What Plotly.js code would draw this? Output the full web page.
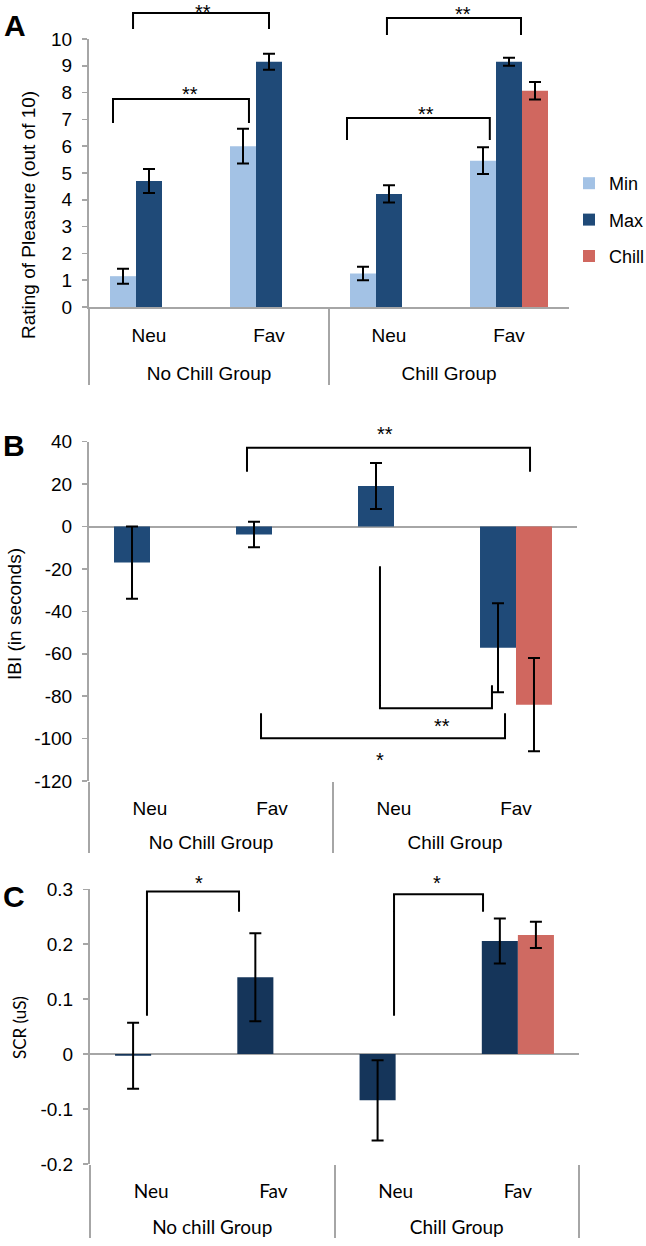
<!DOCTYPE html>
<html>
<head>
<meta charset="utf-8">
<script src="https://cdn.plot.ly/plotly-3.0.1.min.js"></script>
<style>
html,body{margin:0;padding:0;background:#fff;}
#chart{width:646px;height:1246px;}
</style>
</head>
<body>
<div id="chart"></div>
<script>
// ---------------- DATA ----------------
const groupsAB = ['No Chill Group','No Chill Group','Chill Group','Chill Group'];
const groupsC  = ['No chill Group','No chill Group','Chill Group','Chill Group'];
const conditions = ['Neu','Fav','Neu','Fav'];
const seriesNames = ['Min','Max','Chill'];

// Panel A: Rating of pleasure (out of 10)
const pleasureMin    = [1.15, 6.0, 1.25, 5.46];
const pleasureMinErr = [0.28, 0.65, 0.25, 0.5];
const pleasureMax    = [4.7, 9.15, 4.22, 9.15];
const pleasureMaxErr = [0.45, 0.3, 0.32, 0.15];
const pleasureChill    = [null, null, null, 8.07];
const pleasureChillErr = [null, null, null, 0.33];

// Panel B: IBI (in seconds)
const ibiMax    = [-17, -3.8, 19.1, -57.2];
const ibiMaxErr = [17, 6, 10.8, 21];
const ibiChill    = [null, null, null, -84];
const ibiChillErr = [null, null, null, 22];
const ibiTickVals = [40, 20, 0, -20, -40, -60, -80, -100, -120];
const ibiTickText = ['40','20','0','-20','-40','-60','-80','-100','-120'];

// Panel C: SCR (uS)
const scrMax    = [-0.003, 0.14, -0.084, 0.206];
const scrMaxErr = [0.06, 0.08, 0.073, 0.041];
const scrChill    = [null, null, null, 0.217];
const scrChillErr = [null, null, null, 0.024];
const scrTickVals = [0.3, 0.2, 0.1, 0, -0.1, -0.2];
const scrTickText = ['0.3','0.2','0.1','0','-0.1','-0.2'];

// ---------------- LAYOUT GEOMETRY ----------------
const W = 646, H = 1246;
const panels = {
  A: {x0: 89, x1: 569, yTop: 39,    yBot: 307,  r: [0, 10]},
  B: {x0: 89, x1: 577, yTop: 441.7, yBot: 781,  r: [-120, 40]},
  C: {x0: 90, x1: 579, yTop: 889.3, yBot: 1164, r: [-0.2, 0.3]}
};
function xDom(p){ return [p.x0 / W, p.x1 / W]; }
function yDom(p){ return [1 - p.yBot / H, 1 - p.yTop / H]; }
function toPX(p, idx){ return (p.x0 + (idx + 0.5) / 4 * (p.x1 - p.x0)) / W; }
function toPY(p, v){ const py = p.yBot - (v - p.r[0]) / (p.r[1] - p.r[0]) * (p.yBot - p.yTop); return 1 - py / H; }

// significance brackets (category index, value)
const brackets = [
  {panel:'A', pts:[[-0.3,6.87],[-0.3,7.76],[0.833,7.76],[0.833,6.87]], label:'**', at:[0.34,8.1]},
  {panel:'A', pts:[[-0.133,10.37],[-0.133,10.97],[1.0,10.97],[1.0,10.37]], label:'**', at:[0.45,11.3], ys:-8},
  {panel:'A', pts:[[1.65,6.23],[1.65,7.05],[2.84,7.05],[2.84,6.23]], label:'**', at:[2.31,7.35]},
  {panel:'A', pts:[[1.983,10.15],[1.983,10.78],[3.1,10.78],[3.1,10.15]], label:'**', at:[2.62,11.08]},
  {panel:'B', pts:[[0.795,25.8],[0.795,37.1],[3.115,37.1],[3.115,25.8]], label:'**', at:[1.926,45.4]},
  {panel:'B', pts:[[1.885,-18.7],[1.885,-85.7],[2.803,-85.7],[2.803,-74.8]], label:'**', at:[2.393,-92.2]},
  {panel:'B', pts:[[0.91,-88],[0.91,-99.8],[2.91,-99.8],[2.91,-88]], label:'*', at:[1.885,-108.4]},
  {panel:'C', pts:[[-0.034,0.07],[-0.034,0.296],[0.719,0.296],[0.719,0.259]], label:'*', at:[0.392,0.319]},
  {panel:'C', pts:[[1.987,0.07],[1.987,0.291],[2.715,0.291],[2.715,0.259]], label:'*', at:[2.339,0.319]}
];

// ---------------- STYLE ----------------
const GRAY = '#a6a6a6';
const cMin = '#a3c2e5', cMax = '#1f4a78', cChill = '#d0675f', cMaxC = '#15355a', cChillC = '#cf6a62';
const FONT = 'Liberation Sans, Arial, sans-serif';
const FONTC = 'Lato, Liberation Sans, sans-serif';

function err(arr){ return {type:'data', array:arr, visible:true, color:'#000', thickness:2, width:6}; }
// group labels sit one text line below the condition labels
const lowered = g => '<br>' + g;
const xA = [groupsAB.map(lowered), conditions], xC = [groupsC.map(lowered), conditions];

const traces = [
  {type:'bar', name:seriesNames[0], x:xA, y:pleasureMin, error_y:err(pleasureMinErr), marker:{color:cMin}, xaxis:'x', yaxis:'y', legendgroup:'a'},
  {type:'bar', name:seriesNames[1], x:xA, y:pleasureMax, error_y:err(pleasureMaxErr), marker:{color:cMax}, xaxis:'x', yaxis:'y', legendgroup:'b'},
  {type:'bar', name:seriesNames[2], x:xA, y:pleasureChill, error_y:err(pleasureChillErr), marker:{color:cChill}, xaxis:'x', yaxis:'y', legendgroup:'c'},

  {type:'bar', name:seriesNames[1], x:xA, y:ibiMax, error_y:err(ibiMaxErr), marker:{color:cMax}, xaxis:'x2', yaxis:'y2', width:0.295, offset:-0.295, showlegend:false},
  {type:'bar', name:seriesNames[2], x:xA, y:ibiChill, error_y:err(ibiChillErr), marker:{color:cChill}, xaxis:'x2', yaxis:'y2', width:0.295, offset:0, showlegend:false},

  {type:'bar', name:seriesNames[1], x:xC, y:scrMax, error_y:err(scrMaxErr), marker:{color:cMaxC}, xaxis:'x3', yaxis:'y3', width:0.295, offset:-0.295, showlegend:false},
  {type:'bar', name:seriesNames[2], x:xC, y:scrChill, error_y:err(scrChillErr), marker:{color:cChillC}, xaxis:'x3', yaxis:'y3', width:0.295, offset:0, showlegend:false}
];

function xAxis(p, anchor, showline, font, standoff){
  return {domain:xDom(p), anchor:anchor, type:'multicategory', showline:showline, linecolor:GRAY, linewidth:2,
    showdividers:true, dividercolor:GRAY, dividerwidth:2, ticks:'', showgrid:false, zeroline:false,
    tickfont:{family:font, size:19, color:'#000'}, ticklabelstandoff:standoff, fixedrange:true, automargin:false};
}
function yAxis(p, anchor, extra){
  return Object.assign({domain:yDom(p), anchor:anchor, range:p.r, showline:true, linecolor:GRAY, linewidth:2,
    ticks:'outside', ticklen:5, tickwidth:1.5, tickcolor:GRAY, showgrid:false, zeroline:false,
    tickfont:{family:FONT, size:19, color:'#000'}, ticklabelstandoff:6, fixedrange:true, automargin:false}, extra);
}

const shapes = [], annotations = [];
brackets.forEach(b => {
  const p = panels[b.panel];
  const d = b.pts.map((pt, i) => (i ? 'L' : 'M') + toPX(p, pt[0]).toFixed(5) + ',' + toPY(p, pt[1]).toFixed(5)).join(' ');
  shapes.push({type:'path', xref:'paper', yref:'paper', path:d, line:{color:'#000', width:2}});
  annotations.push({xref:'paper', yref:'paper', x:toPX(p, b.at[0]), y:toPY(p, b.at[1]), text:b.label, showarrow:false,
    xanchor:'center', yanchor:'middle', yshift:(b.ys === undefined ? -4 : b.ys), font:{family:FONT, size:20, color:'#000'}});
});

// panel letters
[['A', 15, 26], ['B', 14, 445], ['C', 14, 896]].forEach(l => {
  annotations.push({xref:'paper', yref:'paper', x:l[1] / W, y:1 - l[2] / H, text:'<b>' + l[0] + '</b>', showarrow:false,
    xanchor:'center', yanchor:'middle', font:{family:FONT, size:30, color:'#000'}});
});
// y-axis titles
[['Rating of Pleasure (out of 10)', 28, 215, FONT, 19], ['IBI (in seconds)', 14, 614, FONT, 19], ['SCR (uS)', 19, 1028, FONTC, 17]].forEach(t => {
  annotations.push({xref:'paper', yref:'paper', x:t[1] / W, y:1 - t[2] / H, text:t[0], textangle:-90, showarrow:false,
    xanchor:'center', yanchor:'middle', font:{family:t[3], size:t[4], color:'#000'}});
});

const layout = {
  width:W, height:H, margin:{l:0, r:0, t:0, b:0, pad:0, autoexpand:false}, paper_bgcolor:'#fff', plot_bgcolor:'rgba(0,0,0,0)',
  barmode:'group', bargap:0.35, bargroupgap:0,
  showlegend:true,
  legend:{x:569 / W, y:1 - 165 / H, xanchor:'left', yanchor:'top', traceorder:'grouped', tracegroupgap:10,
    itemwidth:30, font:{family:FONT, size:18, color:'#000'}, bgcolor:'rgba(0,0,0,0)'},
  xaxis: xAxis(panels.A, 'y', true, FONT, 10),
  yaxis: yAxis(panels.A, 'x', {dtick:1, tick0:0}),
  xaxis2: xAxis(panels.B, 'y2', false, FONT, 14),
  yaxis2: yAxis(panels.B, 'x2', {tickvals:ibiTickVals, ticktext:ibiTickText, zeroline:true, zerolinecolor:GRAY, zerolinewidth:2}),
  xaxis3: xAxis(panels.C, 'y3', false, FONTC, 14),
  yaxis3: yAxis(panels.C, 'x3', {tickvals:scrTickVals, ticktext:scrTickText, zeroline:true, zerolinecolor:GRAY, zerolinewidth:2}),
  shapes:shapes, annotations:annotations
};

Plotly.newPlot('chart', traces, layout, {displayModeBar:false, staticPlot:true});
</script>
</body>
</html>
